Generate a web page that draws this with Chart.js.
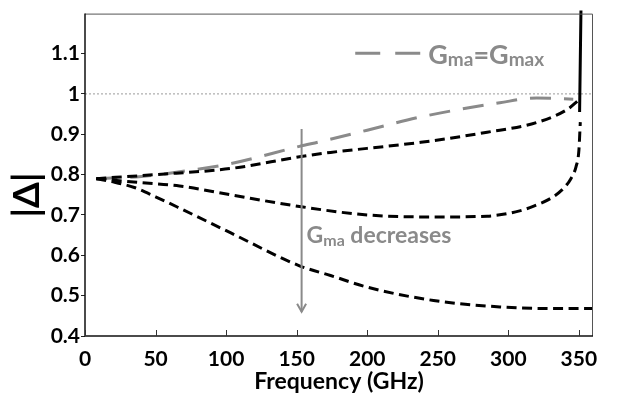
<!DOCTYPE html>
<html>
<head>
<meta charset="utf-8">
<script src="https://cdn.jsdelivr.net/npm/chart.js@4"></script>
<style>
  html, body { margin: 0; padding: 0; background: #fff; }
  #wrap { width: 618px; height: 398px; }
</style>
</head>
<body>
<div id="wrap"><canvas id="chart" width="618" height="398"></canvas></div>
<script>
const FONT = 'Lato, "Open Sans", sans-serif';

// Gma = Gmax (grey long dashes)
const gmaxFreq = [8, 40, 67, 103, 152, 167, 200, 238, 294, 320, 346];
const gmaxMag  = [0.79, 0.795, 0.807, 0.827, 0.870, 0.882, 0.910, 0.943, 0.978, 0.990, 0.987];

// black dashed curves, Gma decreasing from top to bottom
const upperFreq = [8, 50, 103, 152, 174, 200, 238, 285, 320, 342, 350];
const upperMag  = [0.79, 0.80, 0.815, 0.844, 0.855, 0.865, 0.880, 0.905, 0.929, 0.962, 0.985];

const middleFreq = [8, 40, 67, 103, 152, 200, 250, 285, 308, 318, 330, 338, 344, 348, 350, 351];
const middleMag  = [0.79, 0.78, 0.772, 0.750, 0.721, 0.700, 0.695, 0.697, 0.710, 0.722, 0.741, 0.762, 0.788, 0.820, 0.860, 0.93];

const lowerFreq = [8, 20, 35, 50, 67, 103, 152, 174, 200, 247, 294, 332, 360];
const lowerMag  = [0.79, 0.782, 0.768, 0.745, 0.717, 0.656, 0.574, 0.550, 0.521, 0.488, 0.472, 0.468, 0.468];

// solid black rise at the end
const spikeFreq = [350.5, 351.5];
const spikeMag  = [0.955, 1.215];

const refLevel = 1;
const xTicks = [0, 50, 100, 150, 200, 250, 300, 350];
const yTicks = [0.4, 0.5, 0.6, 0.7, 0.8, 0.9, 1, 1.1];

// annotation arrow / text positions in data units
const arrowFreq = 153.5, arrowTop = 0.913, arrowBottom = 0.46;
const noteFreq = 157, noteMag = 0.63;
const legendFreqStart = 191.5, legendFreqEnd = 239, legendMag = 1.101;

const toPoints = (xs, ys) => xs.map((v, i) => ({ x: v, y: ys[i] }));

function drawRich(ctx, parts, x, y, size, subSize, subDrop, color) {
  ctx.fillStyle = color;
  ctx.textBaseline = 'alphabetic';
  ctx.textAlign = 'left';
  parts.forEach(([txt, sub]) => {
    ctx.font = 'bold ' + (sub ? subSize : size) + 'px ' + FONT;
    ctx.fillText(txt, x, sub ? y + subDrop : y);
    x += ctx.measureText(txt).width;
  });
}

const decorations = {
  id: 'decorations',
  afterDatasetsDraw(chart) {
    const { ctx, chartArea: a, scales: { x, y } } = chart;
    ctx.save();
    // frame
    ctx.strokeStyle = '#555';
    ctx.lineWidth = 1;
    ctx.beginPath();
    ctx.moveTo(a.left, a.top + 0.5); ctx.lineTo(a.right - 0.5, a.top + 0.5); ctx.lineTo(a.right - 0.5, a.bottom);
    ctx.stroke();
    ctx.strokeStyle = '#111';
    ctx.lineWidth = 1.5;
    ctx.beginPath();
    ctx.moveTo(a.left, a.top); ctx.lineTo(a.left, a.bottom); ctx.lineTo(a.right, a.bottom);
    ctx.stroke();
    // inward x ticks
    ctx.lineWidth = 1;
    ctx.strokeStyle = '#333';
    xTicks.forEach(v => {
      const px = Math.round(x.getPixelForValue(v)) + 0.5;
      ctx.beginPath(); ctx.moveTo(px, a.bottom); ctx.lineTo(px, a.bottom - 6); ctx.stroke();
    });
    // arrow
    const ax = x.getPixelForValue(arrowFreq);
    const ay1 = y.getPixelForValue(arrowTop), ay2 = y.getPixelForValue(arrowBottom);
    ctx.strokeStyle = '#8a8a8a';
    ctx.lineWidth = 2;
    ctx.beginPath(); ctx.moveTo(ax, ay1); ctx.lineTo(ax, ay2); ctx.stroke();
    ctx.beginPath(); ctx.moveTo(ax - 4.5, ay2 - 8); ctx.lineTo(ax, ay2); ctx.lineTo(ax + 4.5, ay2 - 8); ctx.stroke();
    // note
    drawRich(ctx, [['G', false], ['ma', true], [' decreases', false]],
      x.getPixelForValue(noteFreq), y.getPixelForValue(noteMag), 23, 16, 3, '#8a8a8a');
    // legend
    const ly = y.getPixelForValue(legendMag);
    ctx.strokeStyle = '#8a8a8a';
    ctx.lineWidth = 3;
    ctx.setLineDash([25, 15]);
    ctx.beginPath(); ctx.moveTo(x.getPixelForValue(legendFreqStart), ly); ctx.lineTo(x.getPixelForValue(legendFreqEnd), ly); ctx.stroke();
    ctx.setLineDash([]);
    drawRich(ctx, [['G', false], ['ma', true], ['=G', false], ['max', true]],
      x.getPixelForValue(legendFreqEnd) + 6, ly + 11, 27, 19, 2, '#8a8a8a');
    // y title
    ctx.translate(27, 195);
    ctx.rotate(-Math.PI / 2);
    ctx.font = 'bold 37px ' + FONT;
    ctx.fillStyle = '#000';
    ctx.textAlign = 'center';
    ctx.textBaseline = 'middle';
    ctx.fillText('|\u0394|', 0, 0);
    ctx.restore();
  }
};

const dashedBlack = { borderColor: '#000', borderWidth: 3, borderDash: [10, 5.5], fill: false };
const tickFont = { family: FONT, size: 21, weight: 'bold' };

new Chart(document.getElementById('chart').getContext('2d'), {
  type: 'line',
  data: {
    datasets: [
      { data: toPoints(spikeFreq, spikeMag), borderColor: '#000', borderWidth: 3, tension: 0, clip: { left: 0, top: 3, right: 0, bottom: 0 } },
      { data: toPoints(upperFreq, upperMag), ...dashedBlack },
      { data: toPoints(middleFreq, middleMag), ...dashedBlack },
      { data: toPoints(lowerFreq, lowerMag), ...dashedBlack },
      { data: toPoints(gmaxFreq, gmaxMag), borderColor: '#8a8a8a', borderWidth: 3, borderDash: [21, 13] },
      { data: [{ x: 0, y: refLevel }, { x: 360, y: refLevel }], borderColor: '#9a9a9a', borderWidth: 1, borderDash: [2, 2], tension: 0 }
    ]
  },
  options: {
    responsive: false,
    animation: false,
    layout: { padding: { left: 0, right: 25, top: 10, bottom: 0 } },
    plugins: { legend: { display: false }, tooltip: { enabled: false } },
    elements: { point: { radius: 0 }, line: { tension: 0.4, cubicInterpolationMode: 'monotone' } },
    scales: {
      x: {
        type: 'linear', min: 0, max: 360,
        afterFit(s) { s.height = 62; },
        afterBuildTicks(s) { s.ticks = xTicks.map(v => ({ value: v })); },
        ticks: { font: tickFont, color: '#000', padding: 3, maxRotation: 0 },
        grid: { display: false },
        border: { display: false },
        title: { display: true, text: 'Frequency (GHz)', color: '#000', font: { family: FONT, size: 23, weight: 'bold' }, padding: { top: 0, bottom: 3 } }
      },
      y: {
        min: 0.4, max: 1.199,
        afterFit(s) { s.width = 85; },
        afterBuildTicks(s) { s.ticks = yTicks.map(v => ({ value: v })); },
        ticks: {
          font: tickFont, color: '#000', padding: 1,
          callback: v => (Math.abs(v - 1) < 1e-9 ? '1' : v.toFixed(1))
        },
        grid: { drawOnChartArea: false, tickLength: 4, tickColor: '#222' },
        border: { display: false }
      }
    }
  },
  plugins: [decorations]
});
</script>
</body>
</html>
